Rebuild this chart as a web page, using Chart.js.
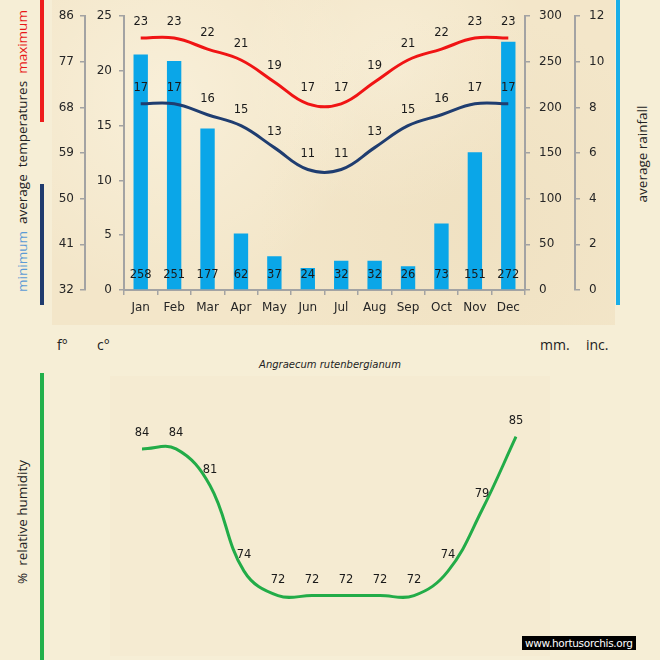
<!DOCTYPE html>
<html>
<head>
<meta charset="utf-8">
<script src="https://cdn.jsdelivr.net/npm/chart.js@4/dist/chart.umd.min.js"></script>
<style>
  body { margin: 0; background: #f6eed6; }
  #wrap { position: relative; width: 660px; height: 660px; overflow: hidden; background: #f6eed6; font-family: "Open Sans", sans-serif; color: #222; }
  .paper { position: absolute; background-color: #f3e6c9;
    background-image: radial-gradient(circle at 20% 30%, rgba(255,250,235,0.45), rgba(255,250,235,0) 40%),
                      radial-gradient(circle at 75% 70%, rgba(232,214,178,0.3), rgba(232,214,178,0) 45%),
                      radial-gradient(circle at 60% 20%, rgba(255,250,235,0.35), rgba(255,250,235,0) 35%); }
  .bar { position: absolute; width: 4px; }
  .rot { position: absolute; width: 320px; height: 20px; line-height: 20px; text-align: center; font-size: 13.5px; transform: rotate(-90deg); white-space: nowrap; }
  .unit { position: absolute; font-size: 14px; }
  canvas { position: absolute; left: 0; }
</style>
</head>
<body>
<div id="wrap">
  <div class="paper" style="left:52px;top:0;width:563px;height:325px;"></div>
  <div class="paper" style="left:110px;top:376px;width:440px;height:280px;background-color:#f5ebd2;background-image:none;"></div>

  <div class="bar" style="left:40px;top:0;height:122px;background:#ee1c1c;"></div>
  <div class="bar" style="left:40px;top:184px;height:121px;background:#1f3b6e;"></div>
  <div class="bar" style="left:616px;top:0;height:305px;background:#19aee8;"></div>
  <div class="bar" style="left:40px;top:373px;height:287px;background:#22b04b;"></div>

  <div class="rot" style="left:-138px;top:141px;"><span style="color:#5b9bd5">minimum</span>&nbsp; average&nbsp; temperatures&nbsp; <span style="color:#e81818">maximum</span></div>
  <div class="rot" style="left:482px;top:144px;">average rainfall</div>
  <div class="rot" style="left:-138px;top:512px;">%&nbsp; relative humidity</div>

  <div class="unit" style="left:57px;top:335px;">f°</div>
  <div class="unit" style="left:97px;top:335px;">c°</div>
  <div class="unit" style="left:540px;top:335px;">mm.</div>
  <div class="unit" style="left:586px;top:335px;">inc.</div>
  <div style="position:absolute;left:0;width:660px;top:359px;text-align:center;font:italic 10px 'DejaVu Sans';">Angraecum rutenbergianum</div>
  <div style="position:absolute;left:522px;top:636px;background:#000;color:#fff;font:10.5px 'DejaVu Sans';padding:1px 3px;letter-spacing:-0.3px;">www.hortusorchis.org</div>

  <canvas id="climate" width="660" height="330" style="top:0"></canvas>
  <canvas id="humid" width="660" height="330" style="top:330px"></canvas>
</div>

<script>
const months    = ['Jan', 'Feb', 'Mar', 'Apr', 'May', 'Jun', 'Jul', 'Aug', 'Sep', 'Oct', 'Nov', 'Dec'];
const rainMm    = [258, 251, 177, 62, 37, 24, 32, 32, 26, 73, 151, 272];
const maxTempC  = [23, 23, 22, 21, 19, 17, 17, 19, 21, 22, 23, 23];
const minTempC  = [17, 17, 16, 15, 13, 11, 11, 13, 15, 16, 17, 17];
const humidity  = [84, 84, 81, 74, 72, 72, 72, 72, 72, 74, 79, 85];

const AXIS = '#a3a3a3';
const TICK_FONT = { family: 'DejaVu Sans', size: 12 };

// draws the numbers above line points and at the foot of each bar
const valueLabels = {
  id: 'valueLabels',
  afterDatasetsDraw(chart) {
    const ctx = chart.ctx;
    ctx.save();
    ctx.font = '11.5px "DejaVu Sans"';
    ctx.fillStyle = '#1a1a1a';
    ctx.textAlign = 'center';
    ctx.textBaseline = 'middle';
    chart.data.datasets.forEach((ds, i) => {
      const meta = chart.getDatasetMeta(i);
      meta.data.forEach((el, j) => {
        const y = ds.type === 'bar' ? el.base - 14 : el.y - 16;
        ctx.fillText(ds.data[j], el.x, y);
      });
    });
    ctx.restore();
  }
};

function sideAxis(position, weight, min, max, step, width, pad) {
  return {
    type: 'linear', position, weight, min, max,
    ticks: { stepSize: step, padding: pad, color: '#262626', font: TICK_FONT },
    grid: { drawOnChartArea: false, tickLength: 5, color: AXIS, lineWidth: 1.5 },
    border: { color: AXIS, width: 2 },
    afterFit: s => { s.width = width; },
  };
}

Chart.defaults.animation = false;

new Chart(document.getElementById('climate'), {
  type: 'bar',
  data: {
    labels: months,
    datasets: [
      { type: 'line', data: maxTempC, yAxisID: 'c', borderColor: '#f01414', borderWidth: 3,
        pointRadius: 0, tension: 0.4, order: 1 },
      { type: 'line', data: minTempC, yAxisID: 'c', borderColor: '#1f3d70', borderWidth: 3,
        pointRadius: 0, tension: 0.4, order: 1 },
      { type: 'bar', data: rainMm, yAxisID: 'mm', backgroundColor: '#0aa6e8',
        barPercentage: 0.43, categoryPercentage: 1, order: 2 },
    ],
  },
  options: {
    responsive: false,
    layout: { padding: { top: 15, left: 0, right: 0, bottom: 0 } },
    plugins: { legend: { display: false }, tooltip: { enabled: false } },
    scales: {
      x: {
        grid: { offset: true, drawOnChartArea: false, tickLength: 5, color: AXIS, lineWidth: 1.5 },
        border: { color: AXIS, width: 2 },
        ticks: { padding: 6, color: '#262626', font: TICK_FONT },
        afterFit: s => { s.height = 40; },
      },
      f:   sideAxis('left', 2, 32, 86, 9, 85, 6),
      c:   sideAxis('left', 1, 0, 25, 5, 39, 7),
      mm:  sideAxis('right', 1, 0, 300, 50, 50, 9),
      inc: sideAxis('right', 2, 0, 12, 2, 85, 9),
    },
  },
  plugins: [valueLabels],
});

new Chart(document.getElementById('humid'), {
  type: 'line',
  data: {
    labels: months,
    datasets: [
      { data: humidity, borderColor: '#22ac48', borderWidth: 3, pointRadius: 0, tension: 0.4 },
    ],
  },
  options: {
    responsive: false,
    layout: { padding: { top: 70, left: 142, right: 144, bottom: 40 } },
    plugins: { legend: { display: false }, tooltip: { enabled: false } },
    scales: {
      x: { display: false, offset: false },
      y: { display: false, min: 70, max: 88 },
    },
  },
  plugins: [valueLabels],
});
</script>
</body>
</html>
